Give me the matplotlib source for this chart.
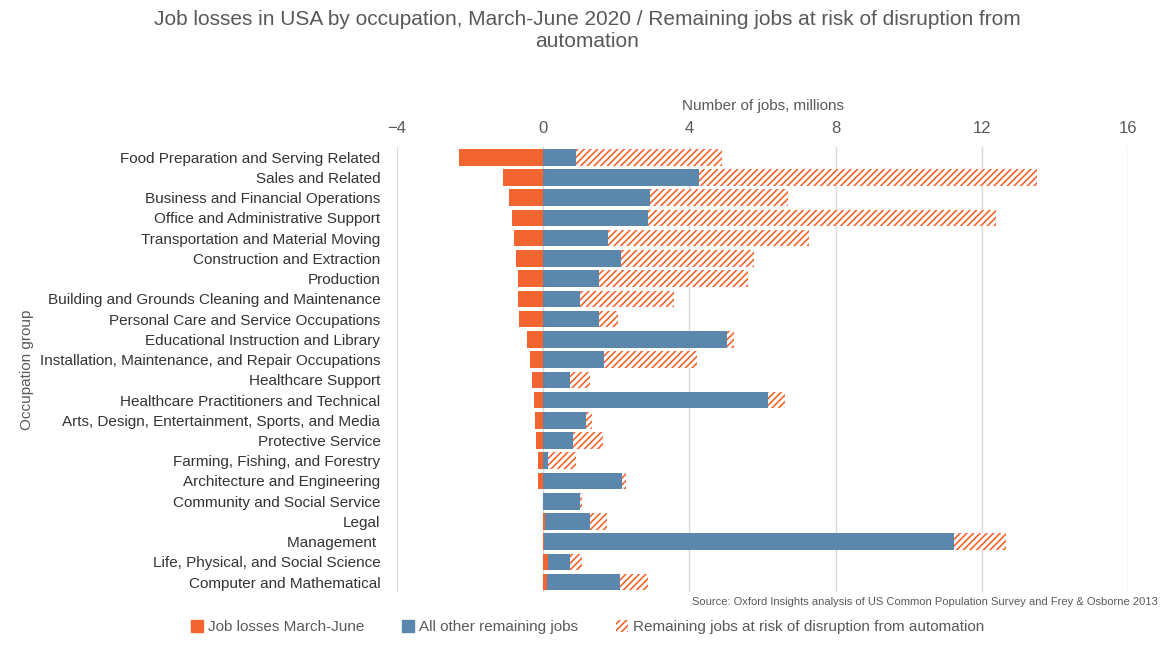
import matplotlib
matplotlib.use("Agg")
import matplotlib.pyplot as plt
from matplotlib.patches import Patch

plt.rcParams['font.family'] = ['Liberation Sans', 'DejaVu Sans']
plt.rcParams['hatch.linewidth'] = 1.2

categories = ["Food Preparation and Serving Related", "Sales and Related", "Business and Financial Operations",
              "Office and Administrative Support", "Transportation and Material Moving", "Construction and Extraction",
              "Production", "Building and Grounds Cleaning and Maintenance", "Personal Care and Service Occupations",
              "Educational Instruction and Library", "Installation, Maintenance, and Repair Occupations",
              "Healthcare Support", "Healthcare Practitioners and Technical",
              "Arts, Design, Entertainment, Sports, and Media", "Protective Service", "Farming, Fishing, and Forestry",
              "Architecture and Engineering", "Community and Social Service", "Legal", "Management ",
              "Life, Physical, and Social Science", "Computer and Mathematical"]
job_losses = [-2.3, -1.1, -0.93, -0.85, -0.8, -0.74, -0.68, -0.68, -0.66, -0.46, -0.36, -0.3, -0.25, -0.22,
              -0.19, -0.14, -0.14, -0.02, 0.05, 0.03, 0.14, 0.1]
other_jobs = [0.9, 4.26, 2.92, 2.87, 1.78, 2.13, 1.53, 1.01, 1.53, 5.03, 1.67, 0.74, 6.15, 1.17, 0.82, 0.14,
              2.16, 1.01, 1.23, 11.2, 0.6, 2.0]
risk_jobs = [4.0, 9.24, 3.78, 9.51, 5.49, 3.64, 4.07, 2.57, 0.52, 0.19, 2.54, 0.54, 0.46, 0.17, 0.82, 0.76,
             0.11, 0.06, 0.47, 1.42, 0.33, 0.77]

orange = '#F26430'
blue = '#5B87AD'
gray = '#595959'

fig = plt.figure(figsize=(11.75, 6.48), dpi=100)
ax = fig.add_axes([0.338, 0.086, 0.622, 0.687])
y = list(range(len(categories)))
starts = [max(l, 0) for l in job_losses]
ax.barh(y, job_losses, height=0.82, color=orange)
ax.barh(y, other_jobs, left=starts, height=0.82, color=blue)
risk_left = [s + o for s, o in zip(starts, other_jobs)]
ax.barh(y, risk_jobs, left=risk_left, height=0.82, color='white', edgecolor=orange, hatch='/////', linewidth=0)

ax.set_ylim(len(categories) - 0.5, -0.5)
ax.set_xlim(-4, 16)
ax.set_xticks(range(-4, 17, 4))
ax.xaxis.tick_top()
ax.xaxis.set_label_position('top')
ax.set_xlabel('Number of jobs, millions', fontsize=11, color=gray, labelpad=8)
ax.set_yticks(y)
ax.set_yticklabels(categories, fontsize=11, color='#333333')
ax.set_ylabel('Occupation group', fontsize=11, color=gray)
ax.tick_params(axis='x', colors=gray, labelsize=12, length=0, pad=8)
ax.tick_params(axis='y', length=0, pad=12)
for s in ax.spines.values():
    s.set_visible(False)
ax.grid(axis='x', color='#D9D9D9', linewidth=1)
ax.set_axisbelow(True)

fig.suptitle('Job losses in USA by occupation, March-June 2020 / Remaining jobs at risk of disruption from\nautomation',
             fontsize=15, color=gray, y=0.985)
fig.text(0.985, 0.066, 'Source: Oxford Insights analysis of US Common Population Survey and Frey & Osborne 2013',
         fontsize=8, color=gray, ha='right')
handles = [Patch(color=orange, label='Job losses March-June'),
           Patch(color=blue, label='All other remaining jobs'),
           Patch(facecolor='white', edgecolor=orange, hatch='/////', linewidth=0,
                 label='Remaining jobs at risk of disruption from automation')]
fig.legend(handles=handles, loc='lower center', bbox_to_anchor=(0.5, 0.0), ncol=3, frameon=False,
           fontsize=11, labelcolor=gray, handlelength=0.8, handleheight=0.8, columnspacing=2.5, handletextpad=0.3)
fig.savefig('out.png', dpi=100)
